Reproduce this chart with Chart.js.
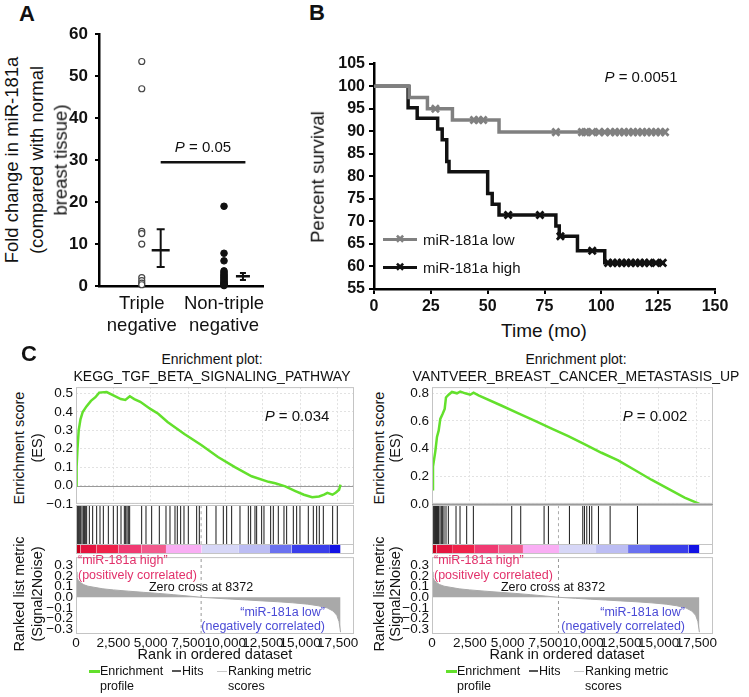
<!DOCTYPE html>
<html>
<head>
<meta charset="utf-8">
<script src="https://cdn.jsdelivr.net/npm/chart.js@4.4.1/dist/chart.umd.min.js"></script>
<style>
  body { margin: 0; background: #fff; }
  #fig { position: relative; width: 749px; height: 697px; overflow: hidden;
         font-family: "Liberation Sans", Arial, sans-serif; color: #111; }
  #fig canvas { position: absolute; }
  .t { position: absolute; white-space: nowrap; line-height: 1; transform: translate(-50%, -50%); }
  .t.l { transform: translate(0, -50%); }
  .t.r { transform: translate(-100%, -50%); }
  .t.v { transform: translate(-50%, -50%) rotate(-90deg); }
  .bar { position: absolute; }
</style>
</head>
<body>
<div id="fig"></div>
<script>
// ---------- panel A : fold change ----------
const catLabels = [['Triple', 'negative'], ['Non-triple', 'negative']];
const catPos = [1, 2];
const tripleNeg = [53.5, 47, 13, 12.5, 10, 2, 1.3, 0.7, 0.3];
const nonTripleNeg = [19, 7.8, 6, 3.6, 3.2, 2.8, 2.5, 2.2, 1.9, 1.6, 1.3, 1.0, 0.8, 0.6, 0.4, 0.3, 0.2, 0.1];
const groupMean = [8.5, 2.3];
const groupLo = [4.5, 1.4];
const groupHi = [13.5, 3.1];
const pLineY = 29.5;
const foldTicks = [0, 10, 20, 30, 40, 50, 60];

// ---------- panel B : survival ----------
const lowTime = [0, 15.5, 23.5, 34.5, 55, 128];
const lowSurv = [100, 97.5, 95, 92.5, 89.8, 89.8];
const lowCensor = [27, 44, 46, 48, 80, 91.5, 93, 96, 99, 101.5, 104, 106, 108, 110, 112, 114, 116, 118, 120, 122, 124, 126, 128];
const highTime = [0, 15, 19, 28, 30, 32, 33, 50, 52, 55, 80, 81.5, 89.5, 101.5, 128];
const highSurv = [100, 95.2, 92.9, 90.5, 88.1, 83.3, 81, 76.2, 73.8, 71.4, 69, 66.7, 63.5, 60.8, 60.8];
const highCensor = [59, 73, 82, 96, 103, 105, 107, 109, 111, 113, 115, 117, 119, 121, 124, 127];
const survTicks = [55, 60, 65, 70, 75, 80, 85, 90, 95, 100, 105];
const timeTicks = [0, 25, 50, 75, 100, 125, 150];

// ---------- panel C : GSEA ----------
const rankTicks = [0, 2500, 5000, 7500, 10000, 12500, 15000, 17500];
const rankMax = 18600;
const zeroCross = 8372;
const rankX = [0, 60, 150, 300, 500, 800, 1200, 1800, 2500, 3500, 4500, 5500, 6500, 7500, 8372, 9500, 10500, 11500, 12500, 13500, 14500, 15500, 16200, 16800, 17200, 17450, 17600, 17700];
const rankY = [0.24, 0.19, 0.16, 0.14, 0.12, 0.105, 0.095, 0.08, 0.07, 0.058, 0.047, 0.037, 0.025, 0.012, 0, -0.01, -0.018, -0.026, -0.034, -0.042, -0.052, -0.065, -0.08, -0.1, -0.13, -0.17, -0.23, -0.33];
const metricTicks = [0.3, 0.2, 0.1, 0, -0.1, -0.2, -0.3];
const colorBreaks = [0, 300, 1380, 2830, 4390, 6020, 8410, 10860, 12980, 14430, 16990, 17700];
const colorBarColors = ['#c8001e', '#e5143f', '#ef2249', '#f03a72', '#f25a8c', '#f9aef4', '#d7d7f7', '#bcbdf3', '#6b72ef', '#3a3eea', '#1212e4'];

const tgfEsX = [0, 40, 100, 180, 300, 450, 700, 1000, 1300, 1550, 2050, 2500, 3000, 3300, 3600, 3900, 4300, 5000, 5500, 6125, 7250, 8380, 9500, 10630, 11750, 12880, 13330, 14000, 14680, 15250, 15800, 16260, 16600, 16820, 17160, 17390, 17600, 17700];
const tgfEsY = [0, 0.1, 0.2, 0.3, 0.36, 0.4, 0.43, 0.46, 0.48, 0.505, 0.508, 0.49, 0.47, 0.465, 0.485, 0.47, 0.455, 0.415, 0.39, 0.345, 0.28, 0.22, 0.155, 0.1, 0.05, 0.02, 0.012, -0.005, -0.03, -0.05, -0.064, -0.06, -0.05, -0.04, -0.05, -0.038, -0.023, 0.005];
const tgfHits = [30, 89, 156, 223, 312, 401, 491, 558, 624, 714, 892, 1115, 1383, 1606, 1829, 2163, 2498, 2765, 3011, 3234, 3323, 3412, 3501, 3590, 4393, 4683, 5062, 5575, 6021, 6289, 6623, 6779, 7002, 7225, 7515, 8073, 8251, 8742, 9366, 9857, 10080, 10414, 10972, 11529, 11685, 11975, 12087, 12421, 12577, 13023, 13202, 13536, 13915, 14094, 14540, 14763, 14986, 15543, 15878, 16101, 16279, 16547, 17171, 17483];
const tgfEsTicks = [0.5, 0.4, 0.3, 0.2, 0.1, 0, -0.1];

const metEsX = [0, 66, 220, 330, 440, 550, 700, 840, 925, 1100, 1320, 1650, 1870, 2200, 2530, 2750, 3080, 4620, 5720, 6820, 7920, 9020, 10120, 11220, 12320, 13420, 14520, 15620, 16720, 17700];
const metEsY = [0.106, 0.27, 0.38, 0.485, 0.53, 0.615, 0.65, 0.687, 0.77, 0.79, 0.81, 0.8, 0.812, 0.8, 0.79, 0.805, 0.785, 0.71, 0.655, 0.6, 0.545, 0.49, 0.43, 0.37, 0.315, 0.245, 0.175, 0.11, 0.045, 0];
const metHits = [44, 110, 176, 220, 265, 310, 353, 400, 442, 530, 618, 706, 795, 927, 1082, 1590, 1855, 2296, 2738, 5277, 5873, 7419, 7706, 9097, 9980, 10091, 10245, 10422, 10576, 11018, 11791, 13600];
const metEsTicks = [0.8, 0.7, 0.6, 0.5, 0.4, 0.3, 0.2, 0.1, 0];

// ---------- helpers ----------
const fig = document.getElementById('fig');
Chart.defaults.font.family = '"Liberation Sans", Arial, sans-serif';
Chart.defaults.color = '#111';
const green = '#63e02c';
const kmGray = '#808080';
const barTop = 0.2;   // colour bar takes the lower part of the hits strip

function label(html, x, y, cls, css) {
  const d = document.createElement('div');
  d.className = 't ' + (cls || '');
  d.innerHTML = html;
  d.style.left = x + 'px';
  d.style.top = y + 'px';
  Object.assign(d.style, css || {});
  fig.appendChild(d);
}
function bar(x, y, w, h, color) {
  const d = document.createElement('div');
  d.className = 'bar';
  Object.assign(d.style, { left: x + 'px', top: y + 'px', width: w + 'px', height: h + 'px', background: color });
  fig.appendChild(d);
}

// area = wanted chart area on the page, pad = room around it for axes
function build(area, pad, config) {
  const c = document.createElement('canvas');
  c.width = area.r - area.l + (pad.yw || 0) + (pad.r || 0);
  c.height = area.b - area.t + (pad.t || 0) + (pad.xh || 0) + (pad.b || 0);
  c.style.left = (area.l - (pad.yw || 0)) + 'px';
  c.style.top = (area.t - (pad.t || 0)) + 'px';
  fig.appendChild(c);
  const o = config.options;
  o.responsive = false;
  o.animation = false;
  o.events = [];
  o.layout = { padding: { top: pad.t || 0, right: pad.r || 0, bottom: pad.b || 0, left: 0 } };
  o.plugins = Object.assign({ legend: { display: false }, tooltip: { enabled: false } }, o.plugins || {});
  if (o.scales.x && o.scales.x.display !== false) o.scales.x.afterFit = s => { s.height = pad.xh || 0; };
  if (o.scales.y && o.scales.y.display !== false) o.scales.y.afterFit = s => { s.width = pad.yw || 0; };
  return new Chart(c, config);
}
const setTicks = arr => s => { s.ticks = arr.map(v => ({ value: v })); };
const pts = (xs, ys) => xs.map((x, i) => ({ x, y: ys[i] }));

const framePlugin = {
  id: 'frame',
  afterDraw(chart, args, o) {
    if (!o || !o.color) return;
    const { ctx, chartArea: a } = chart;
    ctx.save();
    ctx.strokeStyle = o.color;
    ctx.lineWidth = 1;
    ctx.strokeRect(a.left + 0.5, a.top + 0.5, a.width - 1, a.height - 1);
    (o.hlines || []).forEach(v => {
      const y = Math.round(chart.scales.y.getPixelForValue(v)) + 0.5;
      ctx.beginPath(); ctx.moveTo(a.left, y); ctx.lineTo(a.right, y); ctx.stroke();
    });
    ctx.restore();
  }
};
const zeroPlugin = {
  id: 'zeroLine',
  beforeDatasetsDraw(chart, args, o) {
    if (!o || !o.color) return;
    const { ctx, chartArea: a } = chart;
    const y = Math.round(chart.scales.y.getPixelForValue(0)) + 0.5;
    ctx.save();
    ctx.strokeStyle = o.color;
    ctx.lineWidth = 1;
    ctx.beginPath(); ctx.moveTo(a.left, y); ctx.lineTo(a.right, y); ctx.stroke();
    ctx.restore();
  }
};

// ---------- panel A ----------
const meanShift = 0.23;
build({ l: 99, t: 29, r: 265, b: 286 }, { yw: 45, t: 12, r: 10, xh: 50 }, {
  type: 'scatter',
  data: {
    datasets: [
      { data: tripleNeg.map(v => ({ x: catPos[0], y: v })), pointRadius: 3, pointBackgroundColor: '#fff',
        pointBorderColor: '#444', pointBorderWidth: 1.2, clip: false },
      { data: nonTripleNeg.map(v => ({ x: catPos[1], y: v })), pointRadius: 3.3, pointBackgroundColor: '#111',
        pointBorderColor: '#111', pointBorderWidth: 1, clip: false },
      ...catPos.map((p, i) => ({
        type: 'line', data: [{ x: p + meanShift, y: groupLo[i] }, { x: p + meanShift, y: groupHi[i] }],
        borderColor: '#111', borderWidth: 2, pointStyle: 'line', pointRadius: i ? 3 : 4,
        pointBorderWidth: 2, pointBorderColor: '#111'
      })),
      { data: catPos.map((p, i) => ({ x: p + meanShift, y: groupMean[i] })), pointStyle: 'line',
        pointRadius: [9, 7], pointBorderWidth: 2.5, pointBorderColor: '#111' },
      { type: 'line', data: [{ x: catPos[0] + meanShift, y: pLineY }, { x: catPos[1] + meanShift + 0.03, y: pLineY }],
        borderColor: '#111', borderWidth: 2.5, pointRadius: 0 }
    ]
  },
  options: {
    scales: {
      x: { type: 'linear', min: 0.48, max: 2.48, afterBuildTicks: setTicks(catPos),
           ticks: { callback: (v, i) => catLabels[i], font: { size: 18.5 }, padding: 7, maxRotation: 0, autoSkip: false },
           grid: { display: false, drawTicks: false }, border: { display: true, color: '#000', width: 2.5 } },
      y: { min: 0, max: 60, afterBuildTicks: setTicks(foldTicks),
           ticks: { font: { size: 17, weight: 'bold' }, padding: 7 },
           grid: { drawOnChartArea: false, tickLength: 4, color: '#000', lineWidth: 2 },
           border: { display: true, color: '#000', width: 2.5 } }
    }
  }
});
label('A', 27, 14, '', { fontWeight: 'bold', fontSize: '22px' });
label('Fold change in miR-181a', 11.5, 160, 'v', { fontSize: '18.5px' });
label('(compared with normal', 37, 160, 'v', { fontSize: '18.5px' });
label('breast tissue)', 61, 160, 'v', { fontSize: '18.5px' });
label('<i>P</i> = 0.05', 203, 146, '', { fontSize: '15px' });

// ---------- panel B ----------
const survAt = (ts, ss, x) => { let v = ss[0]; ts.forEach((t, i) => { if (t <= x) v = ss[i]; }); return v; };
build({ l: 374, t: 62, r: 715, b: 289 }, { yw: 50, t: 12, r: 25, xh: 30 }, {
  type: 'line',
  data: {
    datasets: [
      { data: pts(lowTime, lowSurv), stepped: true, borderColor: kmGray, borderWidth: 3.5, pointRadius: 0 },
      { data: pts(highTime, highSurv), stepped: true, borderColor: '#111', borderWidth: 3.5, pointRadius: 0 },
      { data: lowCensor.map(x => ({ x, y: survAt(lowTime, lowSurv, x) })), showLine: false, pointStyle: 'crossRot',
        pointRadius: 5, pointBorderWidth: 2.8, pointBorderColor: kmGray },
      { data: highCensor.map(x => ({ x, y: survAt(highTime, highSurv, x) })), showLine: false, pointStyle: 'crossRot',
        pointRadius: 5, pointBorderWidth: 2.8, pointBorderColor: '#111' }
    ]
  },
  options: {
    scales: {
      x: { type: 'linear', min: 0, max: 150, afterBuildTicks: setTicks(timeTicks),
           ticks: { font: { size: 16, weight: 'bold' }, padding: 3, maxRotation: 0 },
           grid: { drawOnChartArea: false, tickLength: 5, color: '#000', lineWidth: 2 },
           border: { display: true, color: '#000', width: 2.5 } },
      y: { min: 55, max: 105, afterBuildTicks: setTicks(survTicks),
           ticks: { font: { size: 16, weight: 'bold' }, padding: 4 },
           grid: { drawOnChartArea: false, tickLength: 5, color: '#000', lineWidth: 2 },
           border: { display: true, color: '#000', width: 2.5 } }
    }
  }
});
label('B', 317, 13, '', { fontWeight: 'bold', fontSize: '22px' });
label('Percent survival', 318, 177, 'v', { fontSize: '18.5px' });
label('Time (mo)', 544, 330, '', { fontSize: '19px' });
label('<i>P</i> = 0.0051', 641, 76, '', { fontSize: '15px' });
bar(383, 237.5, 34, 3.5, kmGray);
label('\u2716', 400, 239, '', { fontSize: '12px', color: kmGray, fontFamily: '"DejaVu Sans"' });
label('miR-181a low', 423, 239, 'l', { fontSize: '15px' });
bar(383, 265.5, 34, 3.5, '#111');
label('\u2716', 400, 267, '', { fontSize: '12px', color: '#111', fontFamily: '"DejaVu Sans"' });
label('miR-181a high', 423, 267, 'l', { fontSize: '15px' });

// ---------- panel C ----------
const fmtMetric = v => v.toFixed(1).replace('-', '\u2212');
const gseaFont = { size: 13.5 };

function gsea(s) {
  const L = s.left, R = s.right;
  // enrichment score
  build({ l: L, t: 386, r: R, b: 505 }, { yw: 40, t: 10, r: 10, b: 10 }, {
    type: 'line',
    data: { datasets: [{ data: pts(s.esX, s.esY), borderColor: green, borderWidth: 2.5, pointRadius: 0 }] },
    options: {
      plugins: { frame: { color: '#c4c4c4' }, zeroLine: { color: '#9a9a9a' } },
      scales: {
        x: { type: 'linear', min: 0, max: rankMax, afterBuildTicks: setTicks(rankTicks),
             ticks: { display: false }, grid: { color: '#e2e2e2', drawTicks: false },
             border: { display: false, dash: [2, 2] } },
        y: { min: s.esMin, max: s.esMax, afterBuildTicks: setTicks(s.esTicks),
             ticks: { font: gseaFont, padding: 3, callback: fmtMetric },
             grid: { color: '#e2e2e2', drawTicks: false }, border: { display: false, dash: [2, 2] } }
      }
    },
    plugins: [framePlugin, zeroPlugin]
  });
  // hits + colour bar
  build({ l: L, t: 505, r: R, b: 554 }, {}, {
    type: 'line',
    data: {
      datasets: [
        { data: [{ x: zeroCross, y: barTop }, { x: zeroCross, y: 1 }], borderColor: '#aaa', borderWidth: 1,
          borderDash: [3, 3], pointRadius: 0 },
        { data: s.hits.flatMap(h => [{ x: h, y: barTop }, { x: h, y: 1 }, { x: h, y: null }]),
          borderColor: '#1a1a1a', borderWidth: 1, pointRadius: 0, spanGaps: false },
        ...colorBarColors.map((c, i) => ({
          data: [{ x: colorBreaks[i], y: barTop }, { x: colorBreaks[i + 1], y: barTop }],
          fill: 'origin', backgroundColor: c, borderWidth: 0, pointRadius: 0
        }))
      ]
    },
    options: {
      plugins: { frame: { color: '#c4c4c4', hlines: [barTop] } },
      scales: { x: { type: 'linear', min: 0, max: rankMax, display: false }, y: { min: 0, max: 1, display: false } }
    },
    plugins: [framePlugin]
  });
  // ranked list metric
  build({ l: L, t: 554, r: R, b: 634 }, { yw: 40, t: 8, r: 12, xh: 20 }, {
    type: 'line',
    data: {
      datasets: [
        { data: pts(rankX, rankY), fill: 'origin', backgroundColor: '#a9a9a9', borderColor: '#a9a9a9',
          borderWidth: 1, pointRadius: 0 },
        { data: [{ x: zeroCross, y: -0.347 }, { x: zeroCross, y: 0.38 }], borderColor: '#999', borderWidth: 1,
          borderDash: [3, 3], pointRadius: 0 }
      ]
    },
    options: {
      plugins: { frame: { color: '#c4c4c4' } },
      scales: {
        x: { type: 'linear', min: 0, max: rankMax, afterBuildTicks: setTicks(rankTicks),
             ticks: { font: gseaFont, padding: 1, maxRotation: 0, autoSkip: false, callback: v => v.toLocaleString('en-US') },
             grid: { display: false, drawTicks: false }, border: { display: false } },
        y: { min: -0.347, max: 0.38, afterBuildTicks: setTicks(metricTicks),
             ticks: { font: gseaFont, padding: 3, autoSkip: false, callback: fmtMetric },
             grid: { display: false, drawTicks: false }, border: { display: false } }
      }
    },
    plugins: [framePlugin]
  });

  label('Enrichment plot:', s.titleX, 359, '', { fontSize: '14px' });
  label(s.name, s.titleX, 376, '', { fontSize: '14px' });
  label('<i>P</i> = ' + s.p, s.pX, 415, '', { fontSize: '15px' });
  label('Enrichment score', s.yt1, 448, 'v', { fontSize: '14.5px' });
  label('(ES)', s.yt2, 448, 'v', { fontSize: '14.5px' });
  label('Ranked list metric', s.yt1, 594, 'v', { fontSize: '14.5px' });
  label('(Signal2Noise)', s.yt2, 594, 'v', { fontSize: '14.5px' });
  const red = '#e2306a', blue = '#4b4bd6';
  label('\u201CmiR-181a high\u201D', L + 2, 560, 'l', { fontSize: '12.5px', color: red });
  label('(positively correlated)', L + 2, 575, 'l', { fontSize: '12.5px', color: red });
  label('Zero cross at 8372', s.zcX, 587, '', { fontSize: '12.5px' });
  label('\u201CmiR-181a low\u201D', s.lowR, 612, 'r', { fontSize: '12.5px', color: blue });
  label('(negatively correlated)', s.lowR, 626, 'r', { fontSize: '12.5px', color: blue });
  label('Rank in ordered dataset', s.rankX, 654, '', { fontSize: '14.5px' });
  const g = s.legX;
  bar(g + 89, 670, 11, 2.5, green);
  label('Enrichment', g + 100, 671, 'l', { fontSize: '12.5px' });
  label('profile', g + 100, 686, 'l', { fontSize: '12.5px' });
  bar(g + 172, 670, 9, 2, '#555');
  label('Hits', g + 182, 671, 'l', { fontSize: '12.5px' });
  bar(g + 217, 670.5, 10, 1, '#c8c8c8');
  label('Ranking metric', g + 228, 671, 'l', { fontSize: '12.5px' });
  label('scores', g + 228, 686, 'l', { fontSize: '12.5px' });
}

gsea({ left: 76, right: 354, esX: tgfEsX, esY: tgfEsY, esMin: -0.1, esMax: 0.535, esTicks: tgfEsTicks,
       hits: tgfHits, name: 'KEGG_TGF_BETA_SIGNALING_PATHWAY', titleX: 212, p: '0.034', pX: 297,
       yt1: 18.5, yt2: 37, zcX: 201, lowR: 325, rankX: 215, legX: 0 });
gsea({ left: 432, right: 713, esX: metEsX, esY: metEsY, esMin: 0, esMax: 0.845, esTicks: metEsTicks,
       hits: metHits, name: 'VANTVEER_BREAST_CANCER_METASTASIS_UP', titleX: 576, p: '0.002', pX: 655,
       yt1: 379, yt2: 395, zcX: 553, lowR: 685, rankX: 567, legX: 357 });
label('C', 29, 354, '', { fontWeight: 'bold', fontSize: '22px' });
</script>
</body>
</html>
